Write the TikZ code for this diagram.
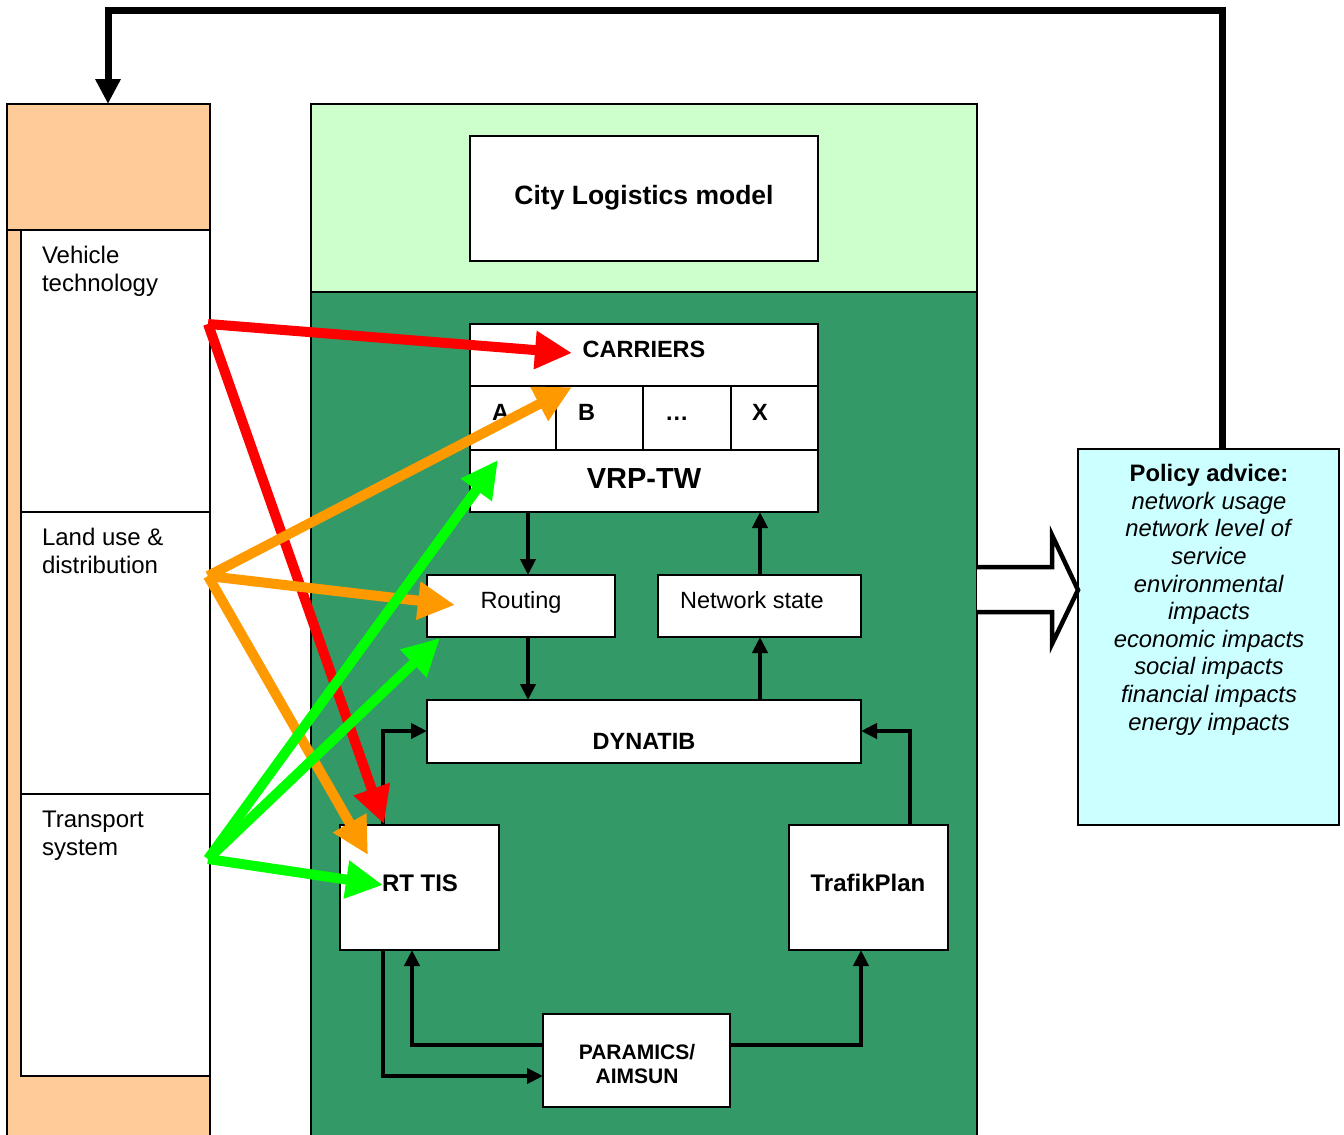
\documentclass[tikz,border=0pt]{standalone}
\usepackage{fontspec}
\setmainfont{Liberation Sans}
\usetikzlibrary{arrows.meta}

\definecolor{peach}{HTML}{FFCC99}
\definecolor{palegreen}{HTML}{CCFFCC}
\definecolor{seagreen}{HTML}{339966}
\definecolor{palecyan}{HTML}{CCFFFF}
\definecolor{hotred}{HTML}{FF0000}
\definecolor{amber}{HTML}{FF9900}
\definecolor{lime}{HTML}{00FF00}

\tikzset{
  box/.style={draw=black, fill=white, line width=2.5pt, inner sep=0pt, outer sep=0pt},
  txt/.style={inner sep=0pt, outer sep=0pt, font=\fontsize{23.5}{28}\selectfont},
  sidetxt/.style={inner sep=0pt, outer sep=0pt, font=\fontsize{24}{28}\selectfont, align=left},
  btxt/.style={inner sep=0pt, outer sep=0pt, font=\bfseries\fontsize{23.5}{28}\selectfont},
  conn/.style={draw=black, line width=4pt, -{Triangle[length=16pt,width=15pt]}},
  feed/.style={line width=10pt, line cap=butt, -{Triangle[length=37pt,width=36pt]}},
}

\begin{document}
\begin{tikzpicture}[x=1pt,y=-1pt]
\useasboundingbox (0,0) rectangle (1344,1135);

% ---- left column: input themes ----
\fill[peach] (7,104) rectangle (210,1140);
\draw[line width=2.5pt] (7,1140) -- (7,104) -- (210,104) -- (210,1140);
\draw[line width=2.5pt] (7,230) -- (210,230);
\node[box, line width=2pt, minimum width=189pt, minimum height=282pt, anchor=north west] (veh) at (21,230) {};
\node[box, line width=2pt, minimum width=189pt, minimum height=282pt, anchor=north west] (land) at (21,512) {};
\node[box, line width=2pt, minimum width=189pt, minimum height=282pt, anchor=north west] (trans) at (21,794) {};
% multi-line labels: the base anchor sits on the last line
\node[sidetxt, anchor=base west] (vehtxt) at (42,291) {Vehicle\\technology};
\node[sidetxt, anchor=base west] (landtxt) at (42,573) {Land use \&\\distribution};
\node[sidetxt, anchor=base west] (transtxt) at (42,855) {Transport\\system};

% ---- model block ----
\fill[palegreen] (311,104) rectangle (977,292);
\fill[seagreen] (311,292) rectangle (977,1140);
\draw[line width=2.5pt] (311,1140) -- (311,104) -- (977,104) -- (977,1140);
\draw[line width=2.5pt] (311,292) -- (977,292);

\node[box, minimum width=348pt, minimum height=125pt] (city) at (644,198.5) {};
\node[btxt, font=\bfseries\fontsize{26.5}{30}\selectfont, anchor=base] (citytxt) at (644,204) {City Logistics model};

\node[box, minimum width=348pt, minimum height=62pt] (carr) at (644,355) {};
\node[box, minimum width=86pt, minimum height=64pt, anchor=north west] (cA) at (470,386) {};
\node[box, minimum width=87pt, minimum height=64pt, anchor=north west] (cB) at (556,386) {};
\node[box, minimum width=88pt, minimum height=64pt, anchor=north west] (cDots) at (643,386) {};
\node[box, minimum width=87pt, minimum height=64pt, anchor=north west] (cX) at (731,386) {};
\node[box, minimum width=348pt, minimum height=62pt] (vrp) at (644,481) {};
\node[btxt, anchor=base] (carrtxt) at (644,357) {CARRIERS};
\node[btxt, anchor=base west] (atxt) at (492,420) {A};
\node[btxt, anchor=base west] (btxt) at (578,420) {B};
\node[btxt, anchor=base west] (dtxt) at (665,420) {\dots};
\node[btxt, anchor=base west] (xtxt) at (752,420) {X};
\node[inner sep=0pt, font=\bfseries\fontsize{29}{34}\selectfont, anchor=base] (vrptxt) at (644,488) {VRP-TW};

\node[box, minimum width=188pt, minimum height=62pt] (routing) at (521,606) {};
\node[txt, anchor=base] (routtxt) at (521,608) {Routing};
\node[box, minimum width=203pt, minimum height=62pt] (net) at (759.5,606) {};
\node[txt, anchor=base] (nettxt) at (752,608) {Network state};

\node[box, minimum width=434pt, minimum height=63pt] (dyn) at (644,731.5) {};
\node[btxt, anchor=base] (dyntxt) at (644,749) {DYNATIB};

\node[box, minimum width=159pt, minimum height=125pt] (rttis) at (419.5,887.5) {};
\node[btxt, font=\bfseries\fontsize{24}{28}\selectfont, anchor=base] (rttxt) at (420,891) {RT TIS};
\node[box, minimum width=159pt, minimum height=125pt] (trafik) at (868.5,887.5) {};
\node[btxt, font=\bfseries\fontsize{24}{28}\selectfont, anchor=base] (trtxt) at (868,891) {TrafikPlan};

\node[box, minimum width=187pt, minimum height=93pt] (param) at (636.5,1060.5) {};
\node[btxt, font=\bfseries\fontsize{21}{23.5}\selectfont, anchor=base, align=center] (partxt) at (637,1083) {PARAMICS/\\AIMSUN};

% ---- policy output ----
\node[box, fill=palecyan, minimum width=261pt, minimum height=376pt, anchor=north west] (policy) at (1078,449) {};
\node[inner sep=0pt, font=\fontsize{23.8}{27.6}\selectfont, anchor=base, align=center] (poltxt) at (1209,730)
  {\textbf{Policy advice:}\\ \textit{network usage}\\ \textit{network level of}\\ \textit{service}\\
   \textit{environmental}\\ \textit{impacts}\\ \textit{economic impacts}\\ \textit{social impacts}\\
   \textit{financial impacts}\\ \textit{energy impacts}};

% hollow block arrow from the model to the policy advice
\draw[line width=4.5pt, fill=white, line join=miter]
  (977,567) -- (1052,567) -- (1052,535) -- (policy.west |- 0,590) -- (1052,644) -- (1052,612) -- (977,612);

% feedback loop from the policy advice to the input themes
\draw[line width=7pt, -{Triangle[length=25pt,width=24pt]}]
  (policy.north -| 1222,0) |- (108,10) -- (108,104);

% ---- internal model links ----
\draw[conn] (vrp.south -| 528,0) -- (routing.north -| 528,0);
\draw[conn] (net.north -| 760,0) -- (vrp.south -| 760,0);
\draw[conn] (routing.south -| 528,0) -- (dyn.north -| 528,0);
\draw[conn] (dyn.north -| 760,0) -- (net.south -| 760,0);
\draw[conn] (rttis.north -| 383,0) |- (dyn.west |- 0,731);
\draw[conn] (trafik.north -| 910,0) |- (dyn.east |- 0,731);
\draw[conn] (rttis.south -| 383,0) |- (param.west |- 0,1076);
\draw[conn] (param.west |- 0,1045) -| (rttis.south -| 412,0);
\draw[conn] (param.east |- 0,1045) -| (trafik.south -| 861,0);

% ---- influence of the input themes ----
\coordinate (vehout) at (208,324);
\coordinate (landout) at (208,576);
\coordinate (transout) at (208,859);
\coordinate (carrin) at (572,353);
\coordinate (cellin) at (572,387);
\coordinate (vrpin) at (498,460);
\coordinate (routin) at (455,605);
\coordinate (routbot) at (440,638);
\coordinate (rtred) at (384,824);
\coordinate (rtamber) at (368,855);
\coordinate (rtlime) at (383,885);

\draw[feed, hotred] (vehout) -- (carrin);
\draw[feed, hotred] (vehout) -- (rtred);
\draw[feed, amber] (landout) -- (cellin);
\draw[feed, amber] (landout) -- (routin);
\draw[feed, amber] (landout) -- (rtamber);
\draw[feed, lime] (transout) -- (vrpin);
\draw[feed, lime] (transout) -- (routbot);
\draw[feed, lime] (transout) -- (rtlime);
\end{tikzpicture}
\end{document}
